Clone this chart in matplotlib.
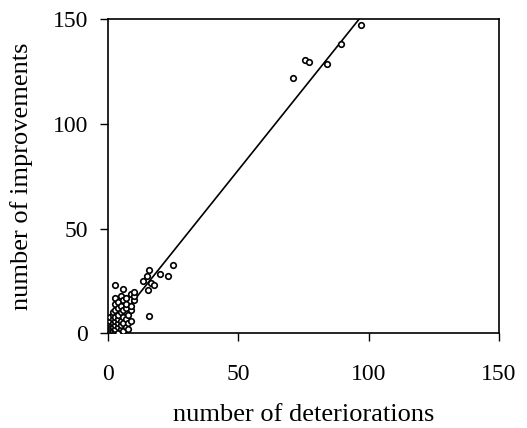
import matplotlib
matplotlib.use("Agg")
import matplotlib.pyplot as plt
import numpy as np

plt.rcParams['font.family'] = ['Liberation Serif', 'DejaVu Serif']

deteriorations = [0, 0, 0, 0, 0, 0, 0, 0, 1, 1, 1, 1, 1, 1, 1, 1,
                  2, 2, 2, 2, 2, 2, 2, 3, 3, 3, 3, 3, 3, 3, 3, 3,
                  4, 4, 4, 4, 4, 4, 4, 5, 5, 5, 5, 5, 5, 6, 6, 6, 6, 6, 6,
                  7, 7, 7, 7, 7, 8, 8, 8, 9, 9, 9, 9, 10, 10, 10,
                  13.6, 15, 16, 16.7, 17.7, 15.4, 20.2, 23.2, 25.1, 16,
                  71, 75.8, 77.2, 83.9, 89.3, 97.2]
improvements = [0, 1, 2, 3, 4, 5, 6, 7, 0, 1, 2, 3, 4, 5, 6, 8,
                0, 1, 3, 5, 7, 9, 10, 1, 2, 4, 6, 8, 11, 14, 17, 23,
                0, 3, 5, 7, 9, 12, 15, 2, 4, 6, 10, 13, 18, 1, 5, 8, 11, 16, 21,
                3, 7, 12, 14, 17, 5, 9, 2, 6, 11, 13, 19, 16, 18, 20,
                25, 27.5, 30.4, 24, 23, 20.6, 28.3, 27.5, 32.7, 8.2,
                122, 130.4, 129.6, 128.8, 138, 147.1]
fit_slope = 1.557
axis_ticks = [0, 50, 100, 150]

fig = plt.figure(figsize=(5.27, 4.28), dpi=100)
ax = fig.add_axes([0.204, 0.221, 0.743, 0.734])

ax.plot(deteriorations, improvements, 'o', ms=4, mfc='white', mec='black', mew=1.2,
        linestyle='none', zorder=3)
xl = np.array([0, 150])
ax.plot(xl, fit_slope * xl, color='black', lw=1.2, zorder=2)

ax.set_xlim(0, 150)
ax.set_ylim(0, 150)
ax.set_xticks(axis_ticks)
ax.set_yticks(axis_ticks)
ax.tick_params(direction='out', length=6, width=1, labelsize=17,
               top=False, right=False)
ax.tick_params(axis='x', pad=16)
ax.tick_params(axis='y', pad=8)
for s in ax.spines.values():
    s.set_linewidth(1.2)

ax.set_xlabel('number of deteriorations', fontsize=19)
ax.xaxis.set_label_coords(0.5, -0.279)
ax.xaxis.label.set_verticalalignment('baseline')

ax.set_ylabel('number of improvements', fontsize=19)
ax.yaxis.set_label_coords(-0.2025, 0.5)
ax.yaxis.label.set_verticalalignment('baseline')

fig.savefig('out.png', dpi=100)
